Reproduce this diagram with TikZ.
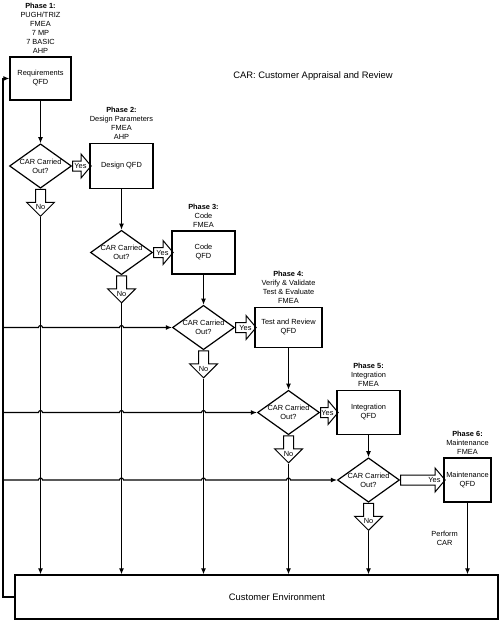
\documentclass[tikz,border=0pt]{standalone}
\usepackage{fontspec}
\setmainfont{Liberation Sans}
\usetikzlibrary{arrows.meta,shapes.geometric,shapes.arrows,positioning,calc}
\tikzset{
  %% QFD boxes
  qfdbox/.style={rectangle,draw,line width=1.3pt,
                 minimum width=63pt,minimum height=44pt,
                 inner sep=1pt,align=center},
  %% CAR decision
  cardiam/.style={diamond,draw,line width=1.2pt,
                  minimum width=62pt,minimum height=42pt,
                  inner xsep=-4pt,inner ysep=-2pt,align=center},
  %% phase headings
  phaselbl/.style={inner sep=0pt,align=center},
  %% block arrows Yes / No
  yesarr/.style={single arrow,draw,line width=1pt,
                 inner xsep=2pt,inner ysep=4.5pt,
                 single arrow head extend=7pt,
                 single arrow tip angle=100,
                 single arrow head indent=0pt,anchor=tail},
  noarr/.style={single arrow,draw,line width=1pt,inner sep=4.5pt,
                shape border rotate=270,
                single arrow head extend=9pt,
                single arrow tip angle=90,
                single arrow head indent=0pt,anchor=tail,
                minimum height=27pt},
  arrtxt/.style={inner sep=0pt},
  bigtxt/.style={font=\fontsize{9.4}{11}\selectfont},
  %% connectors
  flow/.style={-{Latex[length=6pt,width=5pt]},line width=1.1pt},
}

\begin{document}
\begin{tikzpicture}[x=1pt,y=-1pt,font=\fontsize{7.4}{9}\selectfont]
    \useasboundingbox (0,0) rectangle (500,623);

    %% ── QFD boxes and CAR decisions ──────────────────────────
    \node[qfdbox,minimum width=61pt,minimum height=43pt]
         (req)   at (40.5,78.5)  {Requirements\\QFD};
    \node[cardiam] (d1) at (40.5,166)  {CAR Carried\\Out?};
    \node[qfdbox,minimum height=45pt]
         (design) at (121.5,166) {Design QFD};
    \node[cardiam] (d2) at (121.5,252.5) {CAR Carried\\Out?};
    \node[qfdbox,minimum height=43pt]
         (code)  at (203.5,252.5) {Code\\QFD};
    \node[cardiam] (d3) at (203.5,327.5) {CAR Carried\\Out?};
    \node[qfdbox,minimum width=67pt,minimum height=40pt]
         (test)  at (288.5,327.5) {Test and Review\\QFD};
    \node[cardiam] (d4) at (288.5,412.5) {CAR Carried\\Out?};
    \node[qfdbox] (integ) at (368.5,412.5) {Integration\\QFD};
    \node[cardiam] (d5) at (368.5,480) {CAR Carried\\Out?};
    \node[qfdbox,minimum width=47pt]
         (maint) at (467.5,480) {Maintenance\\QFD};

    \node[qfdbox,bigtxt,minimum width=483pt]
         (ce) at (256.5,597) {\hspace*{41pt}Customer Environment};

    %% title
    \node[bigtxt] (title) at (313,76) {CAR: Customer Appraisal and Review};

    %% ── phase headings ───────────────────────────────────────
    \node[phaselbl,above=3pt of req]
      (ph1) {\textbf{Phase 1:}\\PUGH/TRIZ\\FMEA\\7 MP\\7 BASIC\\AHP};
    \node[phaselbl,above=3pt of design]
      (ph2) {\textbf{Phase 2:}\\Design Parameters\\FMEA\\AHP};
    \node[phaselbl,above=3pt of code]
      (ph3) {\textbf{Phase 3:}\\Code\\FMEA};
    \node[phaselbl,above=3pt of test]
      (ph4) {\textbf{Phase 4:}\\Verify \& Validate\\Test \& Evaluate\\FMEA};
    \node[phaselbl,above=3pt of integ]
      (ph5) {\textbf{Phase 5:}\\Integration\\FMEA};
    \node[phaselbl,above=3pt of maint]
      (ph6) {\textbf{Phase 6:}\\Maintenance\\FMEA};

    %% ── Yes block arrows ─────────────────────────────────────
    \node[yesarr,minimum height=18.5pt] (y1) at (d1.east) {};
    \node[yesarr,minimum height=19.5pt] (y2) at (d2.east) {};
    \node[yesarr,minimum height=20.5pt] (y3) at (d3.east) {};
    \node[yesarr,minimum height=17.5pt] (y4) at (d4.east) {};
    \node[yesarr,minimum height=44.5pt] (y5) at (d5.east) {};
    \foreach \i in {1,...,5}
      \node[arrtxt,anchor=east] (yes\i) at ([xshift=-5pt]y\i.tip) {Yes};

    %% ── No block arrows and drops to the customer ────────────
    \foreach \i in {1,...,5}{
      \node[noarr] (n\i) at (d\i.south) {};
      \node[arrtxt,anchor=south] (no\i) at ([yshift=7pt]n\i.tip) {No};
      \draw[flow] (n\i.tip) -- (n\i.tip |- ce.north);
    }
    \draw[flow] (maint) -- (maint |- ce.north);
    \node[arrtxt,align=center,anchor=east] (perf) at (458,538.5) {Perform\\CAR};

    %% ── flow down the phases ─────────────────────────────────
    \draw[flow] (req) -- (d1);
    \draw[flow] (design) -- (d2);
    \draw[flow] (code) -- (d3);
    \draw[flow] (test) -- (d4);
    \draw[flow] (integ) -- (d5);

    %% ── return lines from the customer ───────────────────────
    \coordinate (lft) at (3,0);
    \draw[flow] (ce.west) -- (ce.west -| lft) -- (req.west -| lft) -- (req.west);
    \draw[flow] (d3.west -| lft)
      \foreach \nn in {n1,n2}{
        -- ($(d3.west -| \nn.tip)+(-2pt,0)$) arc[start angle=180,end angle=0,radius=2pt]
      } -- (d3.west);
    \draw[flow] (d4.west -| lft)
      \foreach \nn in {n1,n2,n3}{
        -- ($(d4.west -| \nn.tip)+(-2pt,0)$) arc[start angle=180,end angle=0,radius=2pt]
      } -- (d4.west);
    \draw[flow] (d5.west -| lft)
      \foreach \nn in {n1,n2,n3,n4}{
        -- ($(d5.west -| \nn.tip)+(-2pt,0)$) arc[start angle=180,end angle=0,radius=2pt]
      } -- (d5.west);
  \end{tikzpicture}
\end{document}
